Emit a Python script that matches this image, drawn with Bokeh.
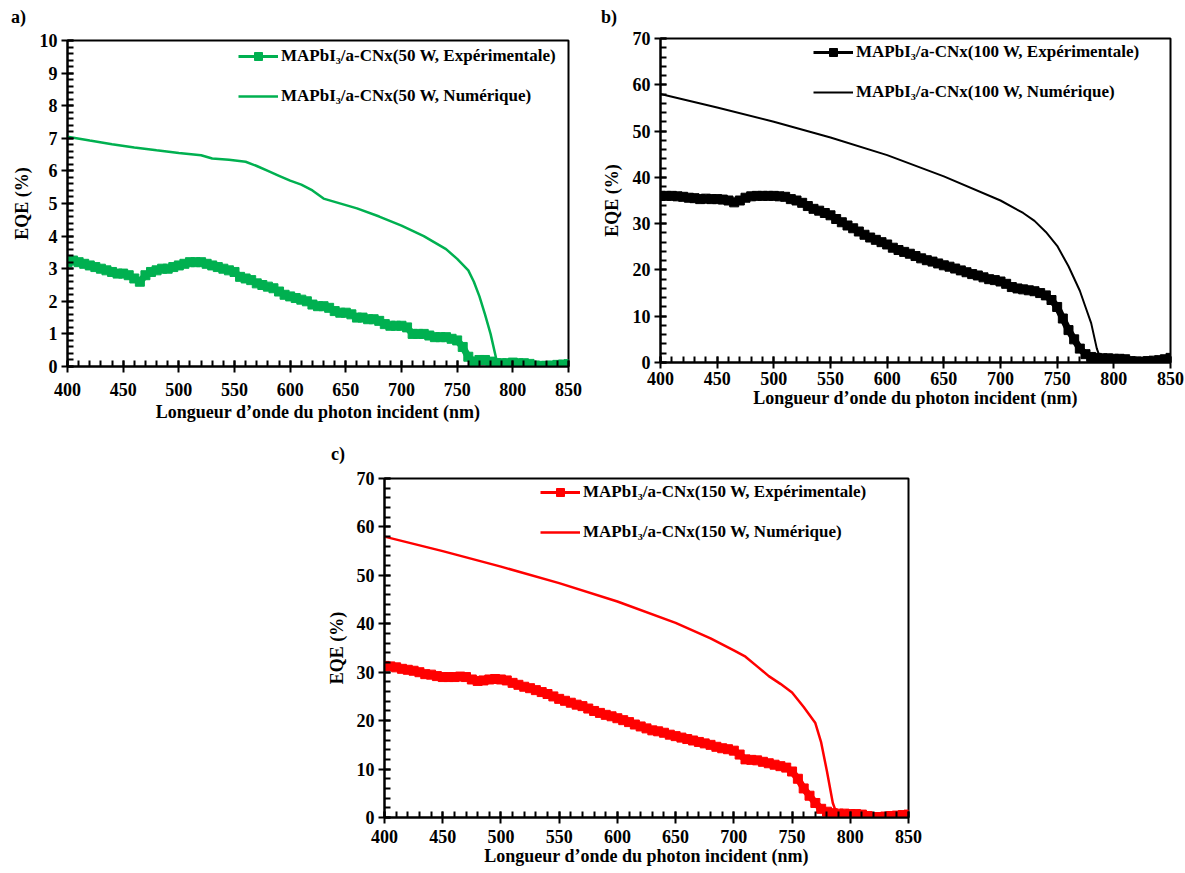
from bokeh.plotting import figure
from bokeh.layouts import column, row, Spacer
from bokeh.models import Range1d, FixedTicker, Legend, LegendItem, Div
from bokeh.embed import file_html
from bokeh.resources import INLINE

FONT = "Liberation Serif"

# ---------------- data ----------------
wl_exp = list(range(400, 855, 5))

exp_50 = [
    3.20, 3.25, 3.20, 3.15, 3.10, 3.05, 3.00, 2.95, 2.90, 2.85,
    2.85, 2.80, 2.70, 2.60, 2.80, 2.90, 2.95, 3.00, 3.00, 3.05,
    3.10, 3.15, 3.20, 3.20, 3.20, 3.15, 3.10, 3.05, 3.00, 2.95,
    2.90, 2.75, 2.70, 2.65, 2.55, 2.50, 2.45, 2.40, 2.30, 2.20,
    2.15, 2.10, 2.05, 2.00, 1.90, 1.85, 1.85, 1.80, 1.70, 1.65,
    1.65, 1.60, 1.50, 1.50, 1.45, 1.45, 1.40, 1.30, 1.25, 1.25,
    1.25, 1.20, 1.00, 1.00, 1.00, 0.95, 0.90, 0.90, 0.90, 0.85,
    0.80, 0.60, 0.30, 0.15, 0.20, 0.20, 0.15, 0.10, 0.10, 0.10,
    0.12, 0.10, 0.10, 0.08, 0.03, 0.02, 0.02, 0.03, 0.05, 0.06,
    0.07]

exp_100 = [
    36.0, 36.0, 36.0, 35.9, 35.8, 35.6, 35.5, 35.3, 35.4, 35.3,
    35.3, 35.2, 35.0, 34.6, 35.0, 35.6, 35.9, 36.0, 36.0, 36.0,
    36.0, 35.9, 35.8, 35.3, 35.0, 34.5, 33.8, 33.2, 32.8, 32.3,
    31.8, 31.0, 30.3, 29.6, 29.0, 28.3, 27.6, 27.0, 26.5, 26.0,
    25.5, 24.8, 24.3, 23.9, 23.5, 23.0, 22.5, 22.1, 21.8, 21.4,
    21.0, 20.7, 20.3, 19.9, 19.5, 19.1, 18.8, 18.4, 18.0, 17.8,
    17.5, 17.0, 16.3, 16.0, 15.8, 15.6, 15.4, 15.0, 14.5, 13.5,
    12.0, 9.5, 7.0, 5.0, 3.0, 1.8, 1.2, 1.0, 0.9, 0.9,
    0.8, 0.8, 0.7, 0.3, 0.2, 0.2, 0.3, 0.4, 0.5, 0.7,
    1.0]

exp_150 = [
    31.3, 31.2, 31.0, 30.7, 30.5, 30.3, 30.0, 29.6, 29.5, 29.2,
    29.0, 29.0, 29.0, 29.1, 29.0, 28.5, 28.2, 28.3, 28.5, 28.6,
    28.5, 28.3, 27.8, 27.4, 27.0, 26.7, 26.3, 25.9, 25.5, 25.0,
    24.5, 24.1, 23.7, 23.3, 23.0, 22.5, 22.0, 21.6, 21.2, 20.9,
    20.5, 20.1, 19.7, 19.2, 18.8, 18.4, 18.0, 17.8, 17.5, 17.1,
    16.8, 16.5, 16.2, 15.9, 15.6, 15.3, 15.0, 14.6, 14.3, 14.1,
    13.8, 13.0, 12.0, 11.9, 11.8, 11.5, 11.2, 10.9, 10.6, 10.3,
    9.5, 8.0, 6.0, 4.5, 3.0, 1.8, 1.2, 0.9, 0.8, 0.8,
    0.7, 0.7, 0.6, 0.3, 0.1, 0.1, 0.2, 0.3, 0.4, 0.5,
    0.6]

num_50_x = [400, 420, 440, 460, 480, 500, 520, 530, 545, 560, 570, 580, 590,
            600, 610, 620, 630, 640, 660, 680, 700, 720, 740, 750, 760, 765,
            770, 775, 780, 786, 790, 800, 850]
num_50_y = [7.05, 6.93, 6.82, 6.72, 6.63, 6.55, 6.48, 6.38, 6.34, 6.28, 6.15,
            6.00, 5.85, 5.70, 5.58, 5.40, 5.15, 5.05, 4.85, 4.60, 4.32, 4.00,
            3.60, 3.30, 2.95, 2.60, 2.15, 1.60, 1.00, 0.10, 0.05, 0.05, 0.05]

num_100_x = [400, 450, 500, 550, 600, 650, 700, 720, 730, 740, 750, 760, 770,
             775, 780, 785, 788, 800, 850]
num_100_y = [58.0, 55.1, 52.0, 48.6, 44.8, 40.2, 35.0, 32.3, 30.6, 28.2, 25.2,
             20.8, 15.5, 12.0, 8.5, 3.0, 1.0, 0.9, 0.9]

num_150_x = [400, 450, 500, 550, 600, 650, 680, 700, 710, 720, 730, 740, 750,
             760, 770, 775, 780, 785, 788, 800, 850]
num_150_y = [58.0, 55.0, 51.8, 48.4, 44.6, 40.2, 37.0, 34.5, 33.2, 31.2, 29.2,
             27.6, 25.8, 22.8, 19.5, 15.5, 9.5, 3.0, 1.0, 0.8, 0.6]

x_ticks = [400, 450, 500, 550, 600, 650, 700, 750, 800, 850]
x_minor = list(range(400, 851, 10))
y_ticks_a = list(range(0, 11))
y_minor_a = [i * 0.2 for i in range(0, 51)]
y_ticks_bc = list(range(0, 71, 10))
y_minor_bc = list(range(0, 71, 2))

GREEN = "#00B050"
BLACK = "#000000"
RED = "#FF0000"


def tag_div(text, pad_left, pad_top, height):
    return Div(text=text, width=100, height=height,
               styles={"font-family": FONT, "font-weight": "bold",
                       "font-size": "18px", "line-height": "18px",
                       "color": "black", "padding-left": "%dpx" % pad_left,
                       "padding-top": "%dpx" % pad_top, "margin": "0"})


def panel(exp_y, num_x, num_y, color, power, ymax, yticks, yminor,
          frame_w, frame_h, borders, x_std, xl_std, y_lbl_std, leg_loc, num_w):
    bl, br, bt, bb = borders
    p = figure(frame_width=frame_w, frame_height=frame_h,
               min_border_left=bl, min_border_right=br,
               min_border_top=bt, min_border_bottom=bb,
               x_range=Range1d(400, 850), y_range=Range1d(0, ymax),
               output_backend="svg", toolbar_location=None,
               background_fill_color="white", border_fill_color="white")

    p.xgrid.visible = False
    p.ygrid.visible = False
    p.outline_line_color = "black"
    p.outline_line_width = 2

    for ax in (p.xaxis[0], p.yaxis[0]):
        ax.axis_line_color = "black"
        ax.axis_line_width = 2
        ax.major_tick_line_color = "#000000"
        ax.major_tick_line_width = 2
        ax.minor_tick_line_color = "#000000"
        ax.minor_tick_line_width = 2
        ax.major_tick_in = 6
        ax.major_tick_out = 6
        ax.minor_tick_in = 6
        ax.minor_tick_out = 0
        ax.major_label_text_font = FONT
        ax.major_label_text_font_style = "bold"
        ax.major_label_text_font_size = "18px"
        ax.major_label_text_color = "black"
        ax.axis_label_text_font = FONT
        ax.axis_label_text_font_style = "bold"
        ax.axis_label_text_font_size = "18px"
        ax.axis_label_text_color = "black"

    p.xaxis[0].ticker = FixedTicker(ticks=x_ticks, minor_ticks=x_minor)
    p.yaxis[0].ticker = FixedTicker(ticks=yticks, minor_ticks=yminor)
    p.xaxis[0].axis_label = "Longueur d\u2019onde du photon incident (nm)"
    p.yaxis[0].axis_label = "EQE (%)"
    p.xaxis[0].major_label_standoff = x_std
    p.xaxis[0].axis_label_standoff = xl_std
    p.yaxis[0].major_label_standoff = 4
    p.yaxis[0].axis_label_standoff = y_lbl_std

    r_num = p.line(num_x, num_y, line_color=color, line_width=num_w)
    p.line(wl_exp, exp_y, line_color=color, line_width=7, line_join="miter")
    r_sq = p.scatter(wl_exp, exp_y, marker="square", size=9,
                     fill_color=color, line_color=color)
    # thin line on top of the band, used for the legend swatch
    r_thin = p.line(wl_exp, exp_y, line_color=color, line_width=3)

    legend = Legend(items=[
        LegendItem(label="MAPbI\u2083/a-CNx(%s W, Exp\u00e9rimentale)" % power,
                   renderers=[r_thin, r_sq]),
        LegendItem(label="MAPbI\u2083/a-CNx(%s W, Num\u00e9rique)" % power,
                   renderers=[r_num]),
    ], location=leg_loc)
    legend.label_text_font = FONT
    legend.label_text_font_style = "bold"
    legend.label_text_font_size = "17px"
    legend.label_text_color = "black"
    legend.background_fill_alpha = 0
    legend.border_line_alpha = 0
    legend.padding = 0
    legend.margin = 0
    legend.spacing = 20
    legend.glyph_width = 40
    legend.glyph_height = 20
    legend.label_height = 20
    legend.label_standoff = 3
    p.add_layout(legend)
    return p


pa = panel(exp_50, num_50_x, num_50_y, GREEN, "50", 10,
           y_ticks_a, y_minor_a, 501, 326, (59, 30, 14, 75), 10, 3, 5,
           (171, 260), 2.5)
pb = panel(exp_100, num_100_x, num_100_y, BLACK, "100", 70,
           y_ticks_bc, y_minor_bc, 510, 324, (62, 14, 12, 78), 3, 0, 8,
           (153, 260), 2)
pc = panel(exp_150, num_150_x, num_150_y, RED, "150", 70,
           y_ticks_bc, y_minor_bc, 524, 339, (76, 20, 13, 45), 6, 0, 7,
           (156, 275), 2.5)

col_a = column(tag_div("a)", 3, 0, 18), pa)
col_b = column(tag_div("b)", 3, 0, 18), pb)
col_c = column(tag_div("c)", 23, 4, 24), pc)

body = column(row(col_a, col_b), row(Spacer(width=300, height=10), col_c))
layout = column(Spacer(width=10, height=8), row(Spacer(width=8, height=10), body))

open("out.html", "w").write(file_html(layout, INLINE))
